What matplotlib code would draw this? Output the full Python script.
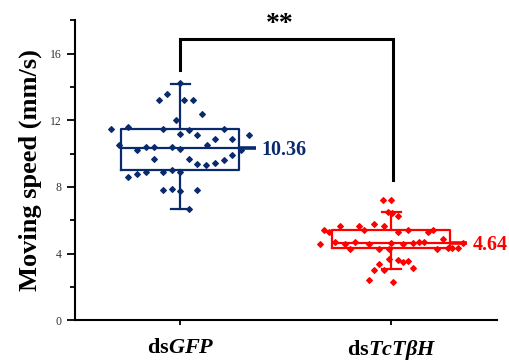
import numpy as np
import matplotlib
matplotlib.use("Agg")
import matplotlib.pyplot as plt
from matplotlib.ticker import MultipleLocator

plt.rcParams['font.family'] = 'Liberation Serif'
plt.rcParams['mathtext.fontset'] = 'custom'
plt.rcParams['mathtext.it'] = 'Liberation Serif:italic:bold'
plt.rcParams['mathtext.rm'] = 'Liberation Serif:bold'

# groups
groups = ['ds$\\mathit{GFP}$', 'ds$\\mathit{TcTβH}$']
colors = ['#0a2a6e', '#ff0000']

# box statistics
medians = [10.36, 4.64]
q1 = [9.04, 4.31]
q3 = [11.5, 5.39]
whislo = [6.7, 3.05]
whishi = [14.2, 6.47]
mean_labels = ['10.36', '4.64']

# individual points (x jitter, y value)
gfp_x = [0.672, 0.752, 0.711, 0.793, 0.837, 0.877, 0.877, 0.752, 0.795, 0.837,
         0.918, 0.961, 1.0, 0.897, 0.937, 1.016, 1.06, 1.101, 0.978, 0.918,
         1.0, 1.041, 1.079, 0.961, 1.041, 1.079, 1.123, 1.164, 1.205, 1.246,
         1.127, 1.164, 1.205, 1.246, 1.288, 1.326, 0.918, 0.961, 1.0, 1.079,
         1.041, 1.0, 1.0]
gfp_y = [11.48, 11.60, 10.50, 10.20, 10.40, 10.40, 9.70, 8.60, 8.80, 8.88,
         8.88, 9.00, 8.88, 13.20, 13.60, 13.20, 13.20, 12.40, 12.00, 11.50,
         11.20, 11.40, 11.10, 10.40, 9.70, 9.40, 9.30, 9.46, 9.60, 9.90,
         10.50, 10.90, 11.50, 10.90, 10.20, 11.10, 7.80, 7.90, 7.76, 7.80,
         6.70, 14.24, 10.30]

tbh_x = [1.961, 2.0, 1.984, 2.003, 2.030, 1.916, 1.964, 1.848, 1.869, 1.755,
         1.682, 1.703, 2.030, 2.077, 2.172, 2.198, 2.243, 1.660, 1.731, 1.779,
         1.826, 1.896, 2.0, 2.055, 2.103, 2.129, 2.156, 1.802, 1.940, 1.987,
         2.219, 2.267, 2.288, 2.314, 2.340, 1.987, 2.032, 2.055, 2.077, 1.940,
         2.101, 1.916, 1.964, 1.896, 2.008]
tbh_y = [7.20, 7.24, 6.50, 6.44, 6.24, 5.80, 5.64, 5.64, 5.44, 5.64,
         5.44, 5.30, 5.30, 5.40, 5.30, 5.40, 4.90, 4.56, 4.70, 4.60,
         4.70, 4.60, 4.64, 4.60, 4.66, 4.70, 4.70, 4.30, 4.30, 4.30,
         4.26, 4.36, 4.36, 4.36, 4.64, 3.70, 3.60, 3.50, 3.56, 3.40,
         3.16, 3.00, 3.00, 2.44, 2.30]

fig = plt.figure(figsize=(5.10, 3.63), dpi=100)
ax = fig.add_axes([0.147, 0.118, 0.827, 0.826])

positions = [1, 2]
for i in range(2):
    stats = [dict(med=medians[i], q1=q1[i], q3=q3[i],
                  whislo=whislo[i], whishi=whishi[i])]
    c = colors[i]
    ax.bxp(stats, positions=[positions[i]], widths=0.56, capwidths=0.09,
           showfliers=False,
           boxprops=dict(color=c, linewidth=1.6),
           whiskerprops=dict(color=c, linewidth=1.6),
           capprops=dict(color=c, linewidth=1.6),
           medianprops=dict(color=c, linewidth=1.6))
    # median line pushed out to the right of the box
    ax.hlines(medians[i], positions[i] + 0.28, positions[i] + 0.36,
              color=c, linewidth=2.6)
    ax.text(positions[i] + 0.385, medians[i] - 0.12, mean_labels[i],
            color=c, fontsize=14.5, fontweight='bold', va='center', ha='left')

ax.scatter(gfp_x, gfp_y, marker='D', s=8, color=colors[0], zorder=3)
ax.scatter(tbh_x, tbh_y, marker='D', s=8, color=colors[1], zorder=3)

# significance bracket
ax.plot([1, 1, 2.01, 2.01], [15.0, 16.9, 16.9, 8.4], color='black',
        linewidth=2.2, solid_joinstyle='miter', clip_on=False)
ax.text(1.47, 17.0, '**', fontsize=20, fontweight='bold',
        ha='center', va='bottom')

ax.set_xlim(0.5, 2.5)
ax.set_ylim(0, 18)
ax.set_xticks(positions)
ax.set_xticklabels(groups, fontsize=16, fontweight='bold')
ax.yaxis.set_major_locator(MultipleLocator(4))
ax.yaxis.set_minor_locator(MultipleLocator(2))
ax.tick_params(axis='y', which='major', length=6, width=1.3,
               labelsize=8.5, labelcolor='#333333')
ax.tick_params(axis='y', which='minor', length=3.5, width=1.3)
ax.tick_params(axis='x', length=3.5, width=1.3, pad=9)
ax.set_ylabel('Moving speed (mm/s)', fontsize=19, fontweight='bold',
              labelpad=6)
for s in ['top', 'right']:
    ax.spines[s].set_visible(False)
for s in ['left', 'bottom']:
    ax.spines[s].set_linewidth(1.5)

fig.savefig('out.png', dpi=100)
